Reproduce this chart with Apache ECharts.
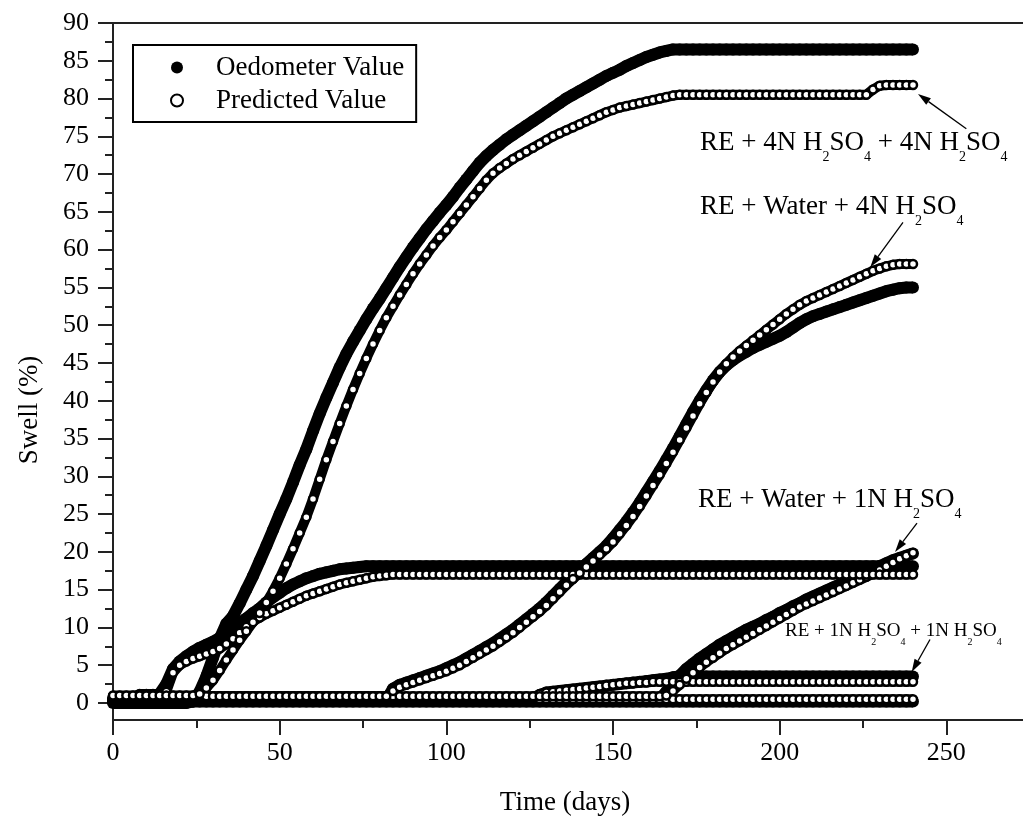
<!DOCTYPE html>
<html>
<head>
<meta charset="utf-8">
<script src="https://cdn.jsdelivr.net/npm/echarts@6/dist/echarts.min.js"></script>
<style>
  html, body { margin: 0; padding: 0; background: #ffffff; }
  #chart { width: 1023px; height: 826px; }
</style>
</head>
<body>
<div id="chart"></div>
<script>
// Elapsed time (days), sampled every 2 days
const days = [
  0,2,4,6,8,10,12,14,16,18,
  20,22,24,26,28,30,32,34,36,38,
  40,42,44,46,48,50,52,54,56,58,
  60,62,64,66,68,70,72,74,76,78,
  80,82,84,86,88,90,92,94,96,98,
  100,102,104,106,108,110,112,114,116,118,
  120,122,124,126,128,130,132,134,136,138,
  140,142,144,146,148,150,152,154,156,158,
  160,162,164,166,168,170,172,174,176,178,
  180,182,184,186,188,190,192,194,196,198,
  200,202,204,206,208,210,212,214,216,218,
  220,222,224,226,228,230,232,234,236,238,
  240
];

const xTicks = [0, 50, 100, 150, 200, 250];
const yTicks = [0,5,10,15,20,25,30,35,40,45,50,55,60,65,70,75,80,85,90];
const yMinorTicks = [2.5,7.5,12.5,17.5,22.5,27.5,32.5,37.5,42.5,47.5,52.5,57.5,62.5,67.5,72.5,77.5,82.5,87.5];

// RE + 4N H2SO4 + 4N H2SO4
const oedA = [
  0,0,0,0,0,0,0,0,0,0,
  0,0,0.2,1.5,3.5,6,8.5,10.5,11.5,13.2,
  15,16.8,18.8,20.8,22.9,25,27,29.2,31.5,33.6,
  36,38.3,40.4,42.4,44.4,46.2,47.8,49.3,50.8,52.2,
  53.5,54.9,56.3,57.7,59,60.3,61.5,62.7,63.8,64.9,
  65.9,67,68.2,69.3,70.4,71.5,72.4,73.2,73.9,74.6,
  75.2,75.8,76.4,77,77.6,78.2,78.8,79.4,80,80.5,
  81,81.5,82,82.5,83,83.4,83.8,84.3,84.7,85.1,
  85.5,85.8,86.1,86.3,86.5,86.5,86.5,86.5,86.5,86.5,
  86.5,86.5,86.5,86.5,86.5,86.5,86.5,86.5,86.5,86.5,
  86.5,86.5,86.5,86.5,86.5,86.5,86.5,86.5,86.5,86.5,
  86.5,86.5,86.5,86.5,86.5,86.5,86.5,86.5,86.5,86.5,
  86.5
];
const predA = [
  1,1,1,1,1,1,1,1,1,1,
  1,1,1,1.2,2,3,4.3,5.7,7,8.3,
  9.5,10.7,11.9,13.3,14.8,16.5,18.4,20.4,22.5,24.6,
  27,29.6,32.2,34.6,37,39.3,41.5,43.6,45.6,47.5,
  49.3,51,52.5,54,55.4,56.8,58.1,59.3,60.5,61.6,
  62.6,63.7,64.8,65.9,67,68.1,69.2,70.1,70.8,71.4,
  72,72.5,73,73.5,74,74.5,75,75.4,75.8,76.2,
  76.6,77,77.4,77.8,78.2,78.5,78.8,79,79.2,79.4,
  79.6,79.8,80,80.2,80.4,80.5,80.5,80.5,80.5,80.5,
  80.5,80.5,80.5,80.5,80.5,80.5,80.5,80.5,80.5,80.5,
  80.5,80.5,80.5,80.5,80.5,80.5,80.5,80.5,80.5,80.5,
  80.5,80.5,80.5,80.5,81.2,81.7,81.8,81.8,81.8,81.8,
  81.8
];

// RE + Water + 4N H2SO4
const oedB = [
  0.3,0.3,0.3,0.3,0.3,0.3,0.3,0.3,0.3,0.3,
  0.3,0.3,0.3,0.3,0.3,0.3,0.3,0.3,0.3,0.3,
  0.3,0.3,0.3,0.3,0.3,0.3,0.3,0.3,0.3,0.3,
  0.3,0.3,0.3,0.3,0.3,0.3,0.3,0.3,0.3,0.3,
  0.3,0.3,1.9,2.4,2.7,3.0,3.3,3.6,3.9,4.2,
  4.6,5.0,5.4,5.9,6.4,6.9,7.4,7.9,8.5,9.1,
  9.7,10.4,11.1,11.8,12.5,13.3,14.2,15.1,16.0,16.8,
  17.6,18.4,19.2,20.0,20.8,21.8,22.9,24.0,25.2,26.5,
  27.9,29.3,30.7,32.2,33.7,35.3,36.9,38.5,40.0,41.4,
  42.7,43.8,44.7,45.4,46.0,46.5,47.0,47.4,47.8,48.2,
  48.6,49.1,49.7,50.3,50.8,51.2,51.5,51.8,52.1,52.4,
  52.7,53.0,53.3,53.6,53.9,54.2,54.5,54.7,54.9,55.0,
  55.0
];
const predB = [
  0.9,0.9,0.9,0.9,0.9,0.9,0.9,0.9,0.9,0.9,
  0.9,0.9,0.9,0.9,0.9,0.9,0.9,0.9,0.9,0.9,
  0.9,0.9,0.9,0.9,0.9,0.9,0.9,0.9,0.9,0.9,
  0.9,0.9,0.9,0.9,0.9,0.9,0.9,0.9,0.9,0.9,
  0.9,0.9,1.6,2.1,2.4,2.7,3.0,3.3,3.6,3.9,
  4.2,4.6,5.0,5.5,6.0,6.5,7.0,7.5,8.1,8.7,
  9.3,10.0,10.7,11.4,12.1,12.9,13.8,14.7,15.6,16.4,
  17.2,18.0,18.8,19.6,20.4,21.3,22.4,23.5,24.7,26.0,
  27.4,28.8,30.2,31.7,33.2,34.8,36.4,38.0,39.6,41.1,
  42.5,43.8,44.9,45.8,46.6,47.3,48.0,48.7,49.4,50.1,
  50.8,51.5,52.1,52.7,53.2,53.6,54.0,54.4,54.8,55.2,
  55.6,56.0,56.4,56.8,57.2,57.5,57.8,58.0,58.1,58.1,
  58.1
];

// Early-swelling specimen levelling off near 17-18 %
const oedC = [
  0.5,0.5,0.5,0.5,1,1,1,1.2,2.5,4.5,
  5.5,6.2,6.8,7.3,7.7,8.1,8.6,9.2,9.9,10.6,
  11.2,11.9,12.5,13.3,14,14.6,15.2,15.7,16.1,16.5,
  16.8,17.1,17.3,17.5,17.7,17.8,17.9,18.0,18.1,18.1,
  18.1,18.1,18.1,18.1,18.1,18.1,18.1,18.1,18.1,18.1,
  18.1,18.1,18.1,18.1,18.1,18.1,18.1,18.1,18.1,18.1,
  18.1,18.1,18.1,18.1,18.1,18.1,18.1,18.1,18.1,18.1,
  18.1,18.1,18.1,18.1,18.1,18.1,18.1,18.1,18.1,18.1,
  18.1,18.1,18.1,18.1,18.1,18.1,18.1,18.1,18.1,18.1,
  18.1,18.1,18.1,18.1,18.1,18.1,18.1,18.1,18.1,18.1,
  18.1,18.1,18.1,18.1,18.1,18.1,18.1,18.1,18.1,18.1,
  18.1,18.1,18.1,18.1,18.1,18.1,18.1,18.1,18.1,18.1,
  18.1
];
const predC = [
  0.8,0.8,0.8,0.8,1.2,1.2,1.2,1.2,1.5,4.0,
  5.0,5.5,5.9,6.2,6.5,6.8,7.2,7.8,8.5,9.3,
  10.1,10.8,11.3,11.8,12.2,12.6,13.0,13.4,13.8,14.2,
  14.5,14.8,15.1,15.4,15.7,15.9,16.1,16.3,16.5,16.7,
  16.8,16.9,17,17,17,17,17,17,17,17,
  17,17,17,17,17,17,17,17,17,17,
  17,17,17,17,17,17,17,17,17,17,
  17,17,17,17,17,17,17,17,17,17,
  17,17,17,17,17,17,17,17,17,17,
  17,17,17,17,17,17,17,17,17,17,
  17,17,17,17,17,17,17,17,17,17,
  17,17,17,17,17,17,17,17,17,17,
  17
];

// RE + Water + 1N H2SO4
const oedD = [
  0.5,0.5,0.5,0.5,0.5,0.5,0.5,0.5,0.5,0.5,
  0.5,0.5,0.5,0.5,0.5,0.5,0.5,0.5,0.5,0.5,
  0.5,0.5,0.5,0.5,0.5,0.5,0.5,0.5,0.5,0.5,
  0.5,0.5,0.5,0.5,0.5,0.5,0.5,0.5,0.5,0.5,
  0.5,0.5,0.5,0.5,0.5,0.5,0.5,0.5,0.5,0.5,
  0.5,0.5,0.5,0.5,0.5,0.5,0.5,0.5,0.5,0.5,
  0.5,0.5,0.5,0.5,0.5,0.5,0.5,0.5,0.5,0.5,
  0.5,0.5,0.5,0.5,0.5,0.5,0.5,0.5,0.5,0.5,
  0.5,0.5,0.5,1.5,2.6,3.6,4.5,5.2,5.9,6.5,
  7.1,7.7,8.2,8.7,9.2,9.7,10.1,10.5,11,11.4,
  11.9,12.3,12.8,13.2,13.7,14.1,14.5,14.9,15.3,15.7,
  16.1,16.5,16.9,17.3,17.7,18.1,18.5,18.9,19.2,19.5,
  19.8
];
const predD = [
  0.9,0.9,0.9,0.9,0.9,0.9,0.9,0.9,0.9,0.9,
  0.9,0.9,0.9,0.9,0.9,0.9,0.9,0.9,0.9,0.9,
  0.9,0.9,0.9,0.9,0.9,0.9,0.9,0.9,0.9,0.9,
  0.9,0.9,0.9,0.9,0.9,0.9,0.9,0.9,0.9,0.9,
  0.9,0.9,0.9,0.9,0.9,0.9,0.9,0.9,0.9,0.9,
  0.9,0.9,0.9,0.9,0.9,0.9,0.9,0.9,0.9,0.9,
  0.9,0.9,0.9,0.9,0.9,0.9,0.9,0.9,0.9,0.9,
  0.9,0.9,0.9,0.9,0.9,0.9,0.9,0.9,0.9,0.9,
  0.9,0.9,0.9,1.0,1.6,2.4,3.2,4.0,4.7,5.4,
  6.0,6.6,7.2,7.7,8.2,8.7,9.2,9.7,10.2,10.7,
  11.2,11.7,12.2,12.7,13.1,13.5,13.9,14.3,14.7,15.1,
  15.5,15.9,16.3,16.7,17.1,17.6,18.1,18.6,19.1,19.5,
  19.9
];

// RE + 1N H2SO4 + 1N H2SO4
const oedE = [
  0.3,0.3,0.3,0.3,0.3,0.3,0.3,0.3,0.3,0.3,
  0.3,0.3,0.3,0.3,0.3,0.3,0.3,0.3,0.3,0.3,
  0.3,0.3,0.3,0.3,0.3,0.3,0.3,0.3,0.3,0.3,
  0.3,0.3,0.3,0.3,0.3,0.3,0.3,0.3,0.3,0.3,
  0.3,0.3,0.3,0.3,0.3,0.3,0.3,0.3,0.3,0.3,
  0.3,0.3,0.3,0.3,0.3,0.3,0.3,0.3,0.3,0.3,
  0.3,0.3,0.3,0.3,1.0,1.4,1.5,1.6,1.7,1.8,
  1.9,2.0,2.1,2.2,2.3,2.4,2.5,2.6,2.7,2.8,
  2.9,3.0,3.1,3.2,3.4,3.5,3.5,3.5,3.5,3.5,
  3.5,3.5,3.5,3.5,3.5,3.5,3.5,3.5,3.5,3.5,
  3.5,3.5,3.5,3.5,3.5,3.5,3.5,3.5,3.5,3.5,
  3.5,3.5,3.5,3.5,3.5,3.5,3.5,3.5,3.5,3.5,
  3.5
];
const predE = [
  0.7,0.7,0.7,0.7,0.7,0.7,0.7,0.7,0.7,0.7,
  0.7,0.7,0.7,0.7,0.7,0.7,0.7,0.7,0.7,0.7,
  0.7,0.7,0.7,0.7,0.7,0.7,0.7,0.7,0.7,0.7,
  0.7,0.7,0.7,0.7,0.7,0.7,0.7,0.7,0.7,0.7,
  0.7,0.7,0.7,0.7,0.7,0.7,0.7,0.7,0.7,0.7,
  0.7,0.7,0.7,0.7,0.7,0.7,0.7,0.7,0.7,0.7,
  0.7,0.7,0.7,0.7,1.2,1.4,1.5,1.6,1.7,1.8,
  1.9,2.0,2.1,2.2,2.3,2.4,2.5,2.6,2.6,2.7,
  2.7,2.8,2.8,2.8,2.8,2.8,2.8,2.8,2.8,2.8,
  2.8,2.8,2.8,2.8,2.8,2.8,2.8,2.8,2.8,2.8,
  2.8,2.8,2.8,2.8,2.8,2.8,2.8,2.8,2.8,2.8,
  2.8,2.8,2.8,2.8,2.8,2.8,2.8,2.8,2.8,2.8,
  2.8
];

// Specimen that stays close to zero swell
const oedF = [
  0.2,0.2,0.2,0.2,0.2,0.2,0.2,0.2,0.2,0.2,
  0.2,0.2,0.2,0.2,0.2,0.2,0.2,0.2,0.2,0.2,
  0.2,0.2,0.2,0.2,0.2,0.2,0.2,0.2,0.2,0.2,
  0.2,0.2,0.2,0.2,0.2,0.2,0.2,0.2,0.2,0.2,
  0.2,0.2,0.2,0.2,0.2,0.2,0.2,0.2,0.2,0.2,
  0.2,0.2,0.2,0.2,0.2,0.2,0.2,0.2,0.2,0.2,
  0.2,0.2,0.2,0.2,0.2,0.2,0.2,0.2,0.2,0.2,
  0.2,0.2,0.2,0.2,0.2,0.2,0.2,0.2,0.2,0.2,
  0.2,0.2,0.2,0.2,0.2,0.2,0.2,0.2,0.2,0.2,
  0.2,0.2,0.2,0.2,0.2,0.2,0.2,0.2,0.2,0.2,
  0.2,0.2,0.2,0.2,0.2,0.2,0.2,0.2,0.2,0.2,
  0.2,0.2,0.2,0.2,0.2,0.2,0.2,0.2,0.2,0.2,
  0.2
];
const predF = [
  0.5,0.5,0.5,0.5,0.5,0.5,0.5,0.5,0.5,0.5,
  0.5,0.5,0.5,0.5,0.5,0.5,0.5,0.5,0.5,0.5,
  0.5,0.5,0.5,0.5,0.5,0.5,0.5,0.5,0.5,0.5,
  0.5,0.5,0.5,0.5,0.5,0.5,0.5,0.5,0.5,0.5,
  0.5,0.5,0.5,0.5,0.5,0.5,0.5,0.5,0.5,0.5,
  0.5,0.5,0.5,0.5,0.5,0.5,0.5,0.5,0.5,0.5,
  0.5,0.5,0.5,0.5,0.5,0.5,0.5,0.5,0.5,0.5,
  0.5,0.5,0.5,0.5,0.5,0.5,0.5,0.5,0.5,0.5,
  0.5,0.5,0.5,0.5,0.5,0.5,0.5,0.5,0.5,0.5,
  0.5,0.5,0.5,0.5,0.5,0.5,0.5,0.5,0.5,0.5,
  0.5,0.5,0.5,0.5,0.5,0.5,0.5,0.5,0.5,0.5,
  0.5,0.5,0.5,0.5,0.5,0.5,0.5,0.5,0.5,0.5,
  0.5
];

const measured = [oedF, oedE, oedD, oedC, oedB, oedA];
const predicted = [predF, predE, predD, predC, predB, predA];

// Curve labels (rich text: n = normal, s = subscript)
const notes = [
  { text: '{n|RE + 4N H}{s|2}{n|SO}{s|4}{n| + 4N H}{s|2}{n|SO}{s|4}', x: 700, y: 129, small: false },
  { text: '{n|RE + Water + 4N H}{s|2}{n|SO}{s|4}', x: 700, y: 193, small: false },
  { text: '{n|RE + Water + 1N H}{s|2}{n|SO}{s|4}', x: 698, y: 486, small: false },
  { text: '{n|RE + 1N H}{s|2}{n|SO}{s|4}{n| + 1N H}{s|2}{n|SO}{s|4}', x: 785, y: 622, small: true }
];
// Leader arrows in data coordinates: [day, swell] tail -> tip
const arrows = [
  { from: [256, 76.0], to: [241.5, 80.6] },
  { from: [237, 63.6], to: [227.2, 57.7] },
  { from: [241.2, 23.8], to: [234.6, 20.0] },
  { from: [245.1, 8.4], to: [239.6, 4.1] }
];

const FONT = "'Liberation Serif', 'Times New Roman', serif";
const AXIS = { color: '#222', width: 2 };

const pairs = v => days.map((d, i) => [d, v[i]]);

const series = [];
measured.forEach(v => series.push({
  name: 'Oedometer Value', type: 'line', data: pairs(v),
  symbol: 'circle', symbolSize: 12,
  itemStyle: { color: '#000' },
  lineStyle: { color: '#000', width: 12 },
  emphasis: { disabled: true }, silent: true
}));
predicted.forEach(v => series.push({
  name: 'Predicted Value', type: 'line', data: pairs(v),
  symbol: 'circle', symbolSize: 8,
  itemStyle: { color: '#fff', borderColor: '#000', borderWidth: 2.5 },
  lineStyle: { color: '#000', width: 10 },
  emphasis: { disabled: true }, silent: true
}));

const richBig = {
  n: { fontSize: 27, fontFamily: FONT, color: '#000', lineHeight: 30, verticalAlign: 'top' },
  s: { fontSize: 14, fontFamily: FONT, color: '#000', lineHeight: 14, padding: [21, 0, 0, 0], verticalAlign: 'top' }
};
const richSmall = {
  n: { fontSize: 19, fontFamily: FONT, color: '#000', lineHeight: 22, verticalAlign: 'top' },
  s: { fontSize: 10, fontFamily: FONT, color: '#000', lineHeight: 10, padding: [15, 0, 0, 0], verticalAlign: 'top' }
};

const chart = echarts.init(document.getElementById('chart'), null, { renderer: 'canvas' });

const baseGraphic = [
  { id: 'ytitle', type: 'text', x: 30, y: 410, rotation: Math.PI / 2,
    style: { text: 'Swell (%)', font: '27px ' + FONT, fill: '#000', align: 'center', verticalAlign: 'middle' } },
  { id: 'xtitle', type: 'text', x: 565, y: 803,
    style: { text: 'Time (days)', font: '27px ' + FONT, fill: '#000', align: 'center', verticalAlign: 'middle' } }
].concat(notes.map((n, i) => ({
  id: 'note' + i, type: 'text', x: n.x, y: n.y,
  style: { text: n.text, rich: n.small ? richSmall : richBig, align: 'left', verticalAlign: 'top' }
})));

chart.setOption({
  animation: false,
  backgroundColor: '#fff',
  // the plot box runs past the right edge of the canvas (x up to 300 days)
  grid: { left: 113, top: 23, width: 1000, height: 697, containLabel: false, outerBoundsMode: 'none' },
  legend: {
    left: 133, top: 45, orient: 'vertical',
    itemWidth: 12, itemHeight: 12, itemGap: 6,
    padding: [9, 12, 8, 37],
    borderColor: '#000', borderWidth: 2,
    selectedMode: false,
    textStyle: { fontSize: 27, fontFamily: FONT, color: '#000', padding: [0, 0, 0, 28] },
    data: [
      { name: 'Oedometer Value', icon: 'circle', itemStyle: { color: '#000' } },
      { name: 'Predicted Value', icon: 'circle', itemStyle: { color: '#fff', borderColor: '#000', borderWidth: 2 } }
    ]
  },
  xAxis: [
    {
      type: 'value', min: 0, max: 300, interval: 50, position: 'bottom',
      axisLine: { show: true, onZero: false, lineStyle: AXIS },
      axisTick: { show: true, length: 15, lineStyle: AXIS },
      minorTick: { show: true, splitNumber: 2, length: 8, lineStyle: AXIS },
      axisLabel: { fontSize: 26, fontFamily: FONT, color: '#000', margin: 20,
        formatter: v => (xTicks.indexOf(v) >= 0 ? String(v) : '') },
      splitLine: { show: false }, minorSplitLine: { show: false }
    },
    {
      type: 'value', min: 0, max: 300, position: 'top',
      axisLine: { show: true, onZero: false, lineStyle: AXIS },
      axisTick: { show: false }, axisLabel: { show: false }, splitLine: { show: false }
    }
  ],
  yAxis: [
    {
      type: 'value', min: -2.25, max: 90, position: 'left',
      axisLine: { show: true, onZero: false, lineStyle: AXIS },
      axisTick: { show: true, length: 15, customValues: yTicks, lineStyle: AXIS },
      axisLabel: { customValues: yTicks, fontSize: 26, fontFamily: FONT, color: '#000', margin: 24 },
      splitLine: { show: false }
    },
    {
      type: 'value', min: -2.25, max: 90, position: 'right', offset: -1000,
      axisLine: { show: false, onZero: false },
      axisTick: { show: true, inside: true, length: 8, customValues: yMinorTicks, lineStyle: AXIS },
      axisLabel: { show: false }, splitLine: { show: false }
    }
  ],
  series: series,
  graphic: baseGraphic
});

// Leader arrows from each label to the end of its curve
const arrowGraphic = [];
arrows.forEach((a, i) => {
  const p0 = chart.convertToPixel({ xAxisIndex: 0, yAxisIndex: 0 }, a.from);
  const p1 = chart.convertToPixel({ xAxisIndex: 0, yAxisIndex: 0 }, a.to);
  const dx = p1[0] - p0[0], dy = p1[1] - p0[1];
  const len = Math.sqrt(dx * dx + dy * dy);
  const ux = dx / len, uy = dy / len;
  const L = 13, W = 4;
  const bx = p1[0] - ux * L, by = p1[1] - uy * L;
  arrowGraphic.push({
    id: 'arrowLine' + i, type: 'line', z: 100,
    shape: { x1: p0[0], y1: p0[1], x2: bx, y2: by },
    style: { stroke: '#000', lineWidth: 1.3 }
  });
  arrowGraphic.push({
    id: 'arrowHead' + i, type: 'polygon', z: 100,
    shape: { points: [[p1[0], p1[1]], [bx - uy * W, by + ux * W], [bx + uy * W, by - ux * W]] },
    style: { fill: '#000' }
  });
});
chart.setOption({ graphic: baseGraphic.concat(arrowGraphic) });
</script>
</body>
</html>
